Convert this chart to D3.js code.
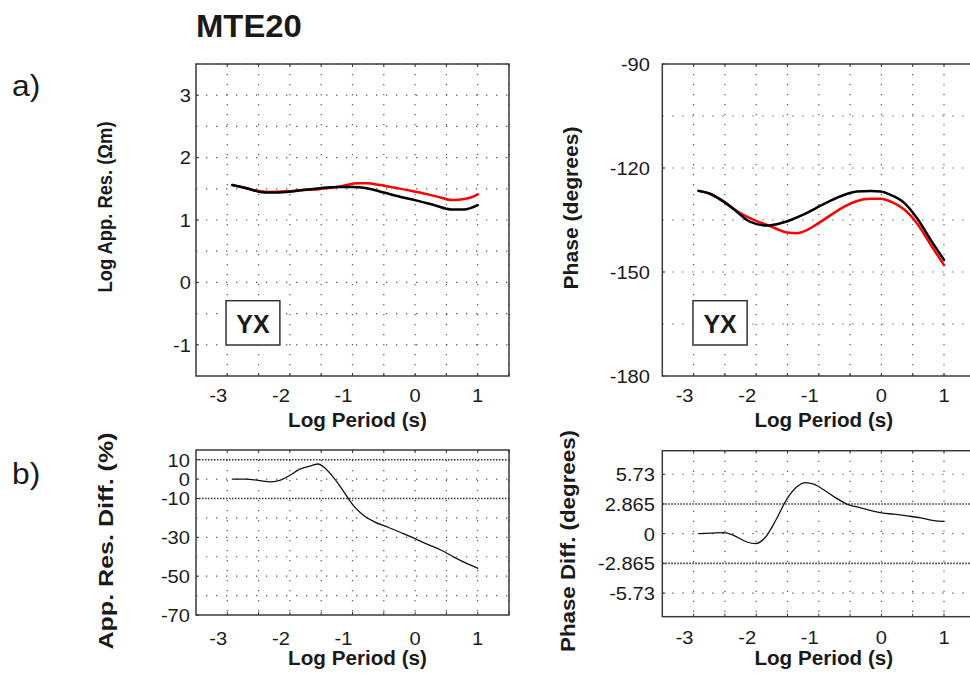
<!DOCTYPE html>
<html><head><meta charset="utf-8">
<script src="https://cdn.jsdelivr.net/npm/d3@7"></script>
<style>
body{margin:0;background:#fff;}
svg{display:block;font-family:"Liberation Sans",Arial,Helvetica,sans-serif;}
</style></head>
<body>
<svg id="c" width="970" height="676"></svg>
<script>
// ---------- DATA ----------
const xTicks = [-3, -2, -1, 0, 1];

// a) Log apparent resistivity (black = observed, red = modelled)
const resBlackX = [-2.92,-2.695,-2.48,-2.32,-2.05,-1.79,-1.52,-1.25,-1.01,-0.77,-0.50,-0.23,0.03,0.30,0.57,0.78,1.00];
const resBlackY = [1.56,1.51,1.45,1.44,1.45,1.48,1.51,1.53,1.53,1.51,1.44,1.37,1.31,1.24,1.17,1.17,1.24];
const resRedX = [-2.92,-2.695,-2.48,-2.32,-2.05,-1.79,-1.57,-1.41,-1.25,-1.09,-0.93,-0.77,-0.555,-0.34,-0.07,0.19,0.41,0.57,0.73,0.89,1.00];
const resRedY = [1.56,1.51,1.46,1.45,1.46,1.48,1.49,1.51,1.53,1.56,1.59,1.59,1.56,1.52,1.47,1.415,1.36,1.32,1.33,1.36,1.41];
const resTicks = [3, 2, 1, 0, -1];

// a) Phase
const phBlackX = [-2.92,-2.73,-2.52,-2.31,-2.15,-1.99,-1.83,-1.67,-1.45,-1.24,-1.03,-0.81,-0.60,-0.39,-0.17,-0.01,0.15,0.36,0.57,0.79,1.00];
const phBlackY = [-126.6,-127.5,-129.7,-132.6,-135.0,-136.2,-136.6,-136.2,-135.0,-133.4,-131.4,-129.4,-127.8,-126.8,-126.6,-126.8,-127.8,-130.0,-134.5,-140.8,-146.5];
const phRedX = [-2.92,-2.73,-2.52,-2.31,-2.15,-1.99,-1.83,-1.67,-1.51,-1.35,-1.19,-1.03,-0.81,-0.60,-0.39,-0.17,-0.01,0.15,0.36,0.57,0.79,1.00];
const phRedY = [-126.6,-127.5,-129.7,-132.4,-134.0,-135.3,-136.4,-137.6,-138.6,-138.8,-137.9,-136.2,-133.6,-131.2,-129.5,-128.9,-128.9,-129.7,-131.9,-136.0,-142.2,-148.0];
const phTicks = [-90, -120, -150, -180];

// b) Apparent resistivity difference (%)
const resDiffX = [-2.92,-2.7,-2.5,-2.3,-2.15,-2.0,-1.85,-1.65,-1.55,-1.45,-1.32,-1.16,-1.0,-0.81,-0.65,-0.43,-0.23,-0.02,0.19,0.41,0.62,0.84,1.0];
const resDiffY = [0,0,-0.7,-1.4,-0.5,2,5,7,7.8,6,1.5,-5.5,-13,-19,-22,-24.8,-27.5,-30.4,-33.5,-36.5,-40.2,-43.7,-45.9];
const resDiffTicks = [10, 0, -10, -30, -50, -70];
const resDiffGrid = [0, -20, -30, -40, -50, -60];
const resDiffLimits = [10, -10];

// b) Phase difference (degrees)
const phDiffX = [-2.92,-2.71,-2.52,-2.36,-2.15,-2.01,-1.85,-1.69,-1.51,-1.35,-1.21,-1.08,-0.92,-0.76,-0.55,-0.33,-0.12,0.01,0.2,0.41,0.63,0.84,1.0];
const phDiffY = [0,0.06,0.1,-0.16,-0.8,-0.95,-0.32,1.27,3.34,4.52,4.93,4.77,4.23,3.57,2.86,2.48,2.16,2.0,1.88,1.72,1.53,1.27,1.18];
const phDiffTicks = [5.73, 2.865, 0, -2.865, -5.73];
const phDiffGrid = [5.73, 0, -5.73];
const phDiffLimits = [2.865, -2.865];

// ---------- DRAWING ----------
const svg = d3.select("#c");
const SX = 1.06; // horizontal text stretch of the reference
function htext(g, x, y, str, size, weight, anchor, sx) {
  return g.append("text")
    .attr("transform", `translate(${x},${y}) scale(${sx===undefined?SX:sx},1)`)
    .attr("text-anchor", anchor || "middle")
    .attr("font-size", size).attr("font-weight", weight || "normal")
    .attr("fill", "#1a1a1a").text(str);
}
function zip(xs, ys){ return xs.map((x,i)=>[x, ys[i]]); }

function panel(o) {
  const x = d3.scaleLinear().domain([-3.5, 1.5]).range([o.x0, o.x1]);
  const y = d3.scaleLinear().domain(o.yDomain).range([o.y1, o.y0]);
  const g = svg.append("g");
  // grid
  const xg = d3.range(-3, 1.5001, 0.5);
  g.selectAll(null).data(xg).join("line")
    .attr("x1", d=>x(d)).attr("x2", d=>x(d)).attr("y1", o.y0).attr("y2", o.y1)
    .attr("stroke", "#555").attr("stroke-width", 1.2).attr("stroke-dasharray", "1.3,8.7");
  g.selectAll(null).data(o.yGrid).join("line")
    .attr("x1", o.x0).attr("x2", o.x1).attr("y1", d=>y(d)).attr("y2", d=>y(d))
    .attr("stroke", "#555").attr("stroke-width", 1.2).attr("stroke-dasharray", "1.3,8.7");
  if (o.limits) {
    g.selectAll(null).data(o.limits).join("line")
      .attr("x1", o.x0).attr("x2", o.x1).attr("y1", d=>y(d)).attr("y2", d=>y(d))
      .attr("stroke", "#333").attr("stroke-width", 1.6).attr("stroke-dasharray", "1.5,1.5");
  }
  // inward ticks
  g.selectAll(null).data(xg).join("line")
    .attr("x1", d=>x(d)).attr("x2", d=>x(d)).attr("y1", o.y1).attr("y2", o.y1-3)
    .attr("stroke", "#333").attr("stroke-width", 1);
  g.selectAll(null).data(xg).join("line")
    .attr("x1", d=>x(d)).attr("x2", d=>x(d)).attr("y1", o.y0).attr("y2", o.y0+3)
    .attr("stroke", "#333").attr("stroke-width", 1);
  g.selectAll(null).data(o.yTicks).join("line")
    .attr("x1", o.x0).attr("x2", o.x0+3).attr("y1", d=>y(d)).attr("y2", d=>y(d))
    .attr("stroke", "#333").attr("stroke-width", 1);
  // curves
  const line = d3.line().x(d=>x(d[0])).y(d=>y(d[1])).curve(d3.curveMonotoneX);
  o.series.forEach(s => {
    g.append("path").attr("d", line(zip(s.xs, s.ys)))
      .attr("fill", "none").attr("stroke", s.color).attr("stroke-width", s.w)
      .attr("stroke-linejoin", "round").attr("stroke-linecap", "round");
  });
  // frame
  g.append("rect").attr("x", o.x0).attr("y", o.y0).attr("width", o.x1-o.x0).attr("height", o.y1-o.y0)
    .attr("fill", "none").attr("stroke", "#3a3a3a").attr("stroke-width", 1.5);
  // tick labels
  o.yTicks.forEach(t => htext(g, o.yLabX, y(t)+6.8, String(t), 19, "normal", "end"));
  xTicks.forEach(t => htext(g, x(t) + (t<0?-9:0), o.xTickY, String(t), 19, "normal", "middle"));
  // axis titles
  htext(g, (o.x0+o.x1)/2 + 5, o.xTitleY, "Log Period (s)", 19.5, "bold", "middle");
  g.append("text")
    .attr("transform", `translate(${o.yTitleX},${o.yTitleC}) rotate(-90)`)
    .attr("text-anchor", "middle").attr("font-size", 20).attr("font-weight", "bold")
    .attr("textLength", o.yTitleLen).attr("lengthAdjust", "spacingAndGlyphs")
    .attr("fill", "#1a1a1a").text(o.yTitle);
  // YX box
  if (o.box) {
    const bx0 = x(o.box[0]), bx1 = x(o.box[1]);
    g.append("rect").attr("x", bx0).attr("y", 300.7).attr("width", bx1-bx0).attr("height", 44.3)
      .attr("fill", "#fff").attr("stroke", "#333").attr("stroke-width", 1.5);
    htext(g, (bx0+bx1)/2, 333, "YX", 25, "bold", "middle", 1.0);
  }
}

panel({x0:196, x1:509, y0:64, y1:376, yDomain:[-1.5,3.5],
  yGrid:d3.range(-1,3.5001,0.5), yTicks:resTicks, yLabX:191, xTickY:402, xTitleY:427,
  yTitle:"Log App. Res. (Ωm)", yTitleX:112, yTitleC:207, yTitleLen:171,
  box:[-3.02,-2.16],
  series:[{xs:resRedX, ys:resRedY, color:"#ff0000", w:2.5},{xs:resBlackX, ys:resBlackY, color:"#000", w:2.5}]});

panel({x0:662.3, x1:975.3, y0:64, y1:376, yDomain:[-180,-90],
  yGrid:d3.range(-165,-90.001,15), yTicks:phTicks, yLabX:650, xTickY:402, xTitleY:427,
  yTitle:"Phase (degrees)", yTitleX:578, yTitleC:208, yTitleLen:163,
  box:[-3.01,-2.145],
  series:[{xs:phRedX, ys:phRedY, color:"#ff0000", w:2.5},{xs:phBlackX, ys:phBlackY, color:"#000", w:2.5}]});

panel({x0:196, x1:509, y0:450, y1:615, yDomain:[-70,15],
  yGrid:resDiffGrid, limits:resDiffLimits, yTicks:resDiffTicks, yLabX:190, xTickY:645, xTitleY:665,
  yTitle:"App. Res. Diff. (%)", yTitleX:112.5, yTitleC:541, yTitleLen:217,
  series:[{xs:resDiffX, ys:resDiffY, color:"#111", w:1.3}]});

panel({x0:662.3, x1:975.3, y0:450.7, y1:616.7, yDomain:[-8,8],
  yGrid:phDiffGrid, limits:phDiffLimits, yTicks:phDiffTicks, yLabX:655, xTickY:644, xTitleY:665,
  yTitle:"Phase Diff. (degrees)", yTitleX:575, yTitleC:541, yTitleLen:222,
  series:[{xs:phDiffX, ys:phDiffY, color:"#111", w:1.3}]});

// figure titles
htext(svg, 196, 37, "MTE20", 31, "bold", "start");
htext(svg, 12, 96, "a)", 30, "normal", "start");
htext(svg, 12, 484, "b)", 30, "normal", "start");
</script>
</body></html>
